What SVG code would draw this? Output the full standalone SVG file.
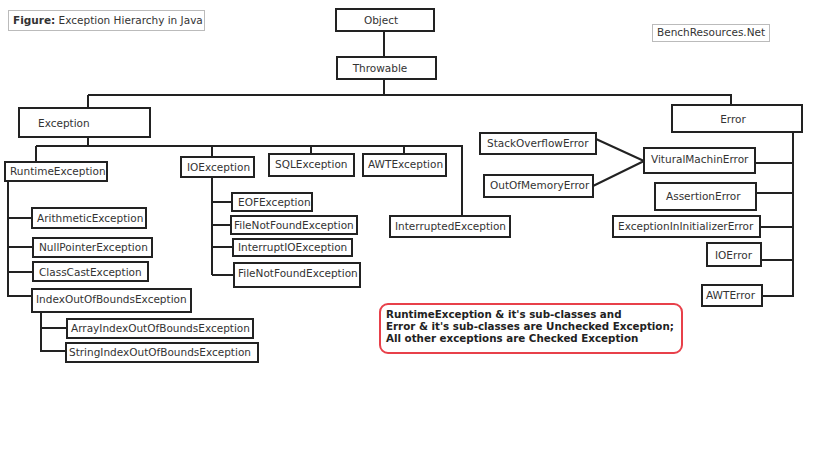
<svg xmlns="http://www.w3.org/2000/svg" width="819" height="460" viewBox="0 0 819 460">
<style>
.n rect{fill:#fff;stroke:#222;stroke-width:2}
.n text{font-family:"DejaVu Sans",Verdana,sans-serif;font-size:10.5px;fill:#333}
.c path{fill:none;stroke:#222;stroke-width:2}
.lbl rect{fill:#fff;stroke:#bbb;stroke-width:1}
.lbl text{font-family:"DejaVu Sans",Verdana,sans-serif;font-size:10.5px;fill:#333}
.note text{font-family:"DejaVu Sans",Verdana,sans-serif;font-size:10.3px;font-weight:bold;fill:#222}
</style>
<rect width="819" height="460" fill="#fff"/>
<g id="connectors" class="c">
<path d="M384 31V56M384 79V95M88 95H731V104M88 95V107"/>
<path d="M88 137V146M36 146H462V216M36 146V162M212 146V157M311 146V154M404 146V154"/>
<path d="M212 177V275M212 202H232M212 225H231M212 247H233M212 275H234"/>
<path d="M8 180V296H32M8 218H32M8 247H33M8 272H33"/>
<path d="M41 312V351H66M41 328H67"/>
<path d="M793 132V296H762M793 163H755M793 193H756M793 227H760M793 260H761"/>
<path d="M596 139L644 161M593 186L644 161"/>
</g>
<g id="fig" class="lbl"><rect x="8.5" y="10.5" width="196" height="20"/><text x="13" y="24"><tspan font-weight="bold">Figure:</tspan> Exception Hierarchy in Java</text></g>
<g id="bench" class="lbl"><rect x="652.5" y="24.5" width="117" height="17"/><text x="657" y="36">BenchResources.Net</text></g>
<g id="object" class="n"><rect x="336" y="9" width="98" height="22"/><text x="381" y="24" text-anchor="middle">Object</text></g>
<g id="throwable" class="n"><rect x="337" y="57" width="99" height="22"/><text x="380" y="72" text-anchor="middle">Throwable</text></g>
<g id="exception" class="n"><rect x="19" y="108" width="131" height="29"/><text x="38" y="127">Exception</text></g>
<g id="error" class="n"><rect x="672" y="105" width="130" height="27"/><text x="733" y="123" text-anchor="middle">Error</text></g>
<g id="runtime" class="n"><rect x="5" y="162" width="102" height="19"/><text x="10" y="175">RuntimeException</text></g>
<g id="ioexception" class="n"><rect x="181" y="157" width="73" height="20"/><text x="187" y="171">IOException</text></g>
<g id="sql" class="n"><rect x="269" y="154" width="85" height="22"/><text x="275" y="168">SQLException</text></g>
<g id="awt" class="n"><rect x="363" y="154" width="83" height="22"/><text x="368" y="168">AWTException</text></g>
<g id="interrupted" class="n"><rect x="390" y="216" width="120" height="21"/><text x="395" y="230">InterruptedException</text></g>
<g id="eof" class="n"><rect x="232" y="193" width="80" height="18"/><text x="238" y="206">EOFException</text></g>
<g id="fnf1" class="n"><rect x="231" y="216" width="126" height="18"/><text x="234" y="229">FileNotFoundException</text></g>
<g id="interruptio" class="n"><rect x="233" y="239" width="119" height="17"/><text x="238" y="251">InterruptIOException</text></g>
<g id="fnf2" class="n"><rect x="234" y="263" width="126" height="24"/><text x="238" y="277">FileNotFoundException</text></g>
<g id="arith" class="n"><rect x="32" y="208" width="114" height="20"/><text x="37" y="222">ArithmeticException</text></g>
<g id="npe" class="n"><rect x="33" y="238" width="119" height="19"/><text x="39" y="251">NullPointerException</text></g>
<g id="cce" class="n"><rect x="33" y="262" width="115" height="19"/><text x="39" y="276">ClassCastException</text></g>
<g id="ioobe" class="n"><rect x="32" y="289" width="159" height="23"/><text x="36" y="303">IndexOutOfBoundsException</text></g>
<g id="aioobe" class="n"><rect x="67" y="319" width="186" height="19"/><text x="71" y="332">ArrayIndexOutOfBoundsException</text></g>
<g id="sioobe" class="n"><rect x="66" y="343" width="192" height="19"/><text x="69" y="356">StringIndexOutOfBoundsException</text></g>
<g id="soe" class="n"><rect x="480" y="133" width="116" height="21"/><text x="487" y="147">StackOverflowError</text></g>
<g id="oome" class="n"><rect x="484" y="175" width="109" height="22"/><text x="490" y="189">OutOfMemoryError</text></g>
<g id="vme" class="n"><rect x="644" y="148" width="111" height="25"/><text x="651" y="163">VituralMachinError</text></g>
<g id="assert" class="n"><rect x="655" y="183" width="101" height="27"/><text x="666" y="200">AssertionError</text></g>
<g id="eiie" class="n"><rect x="613" y="216" width="147" height="21"/><text x="618" y="230">ExceptionInInitializerError</text></g>
<g id="ioerror" class="n"><rect x="707" y="243" width="54" height="23"/><text x="715" y="259">IOError</text></g>
<g id="awterror" class="n"><rect x="702" y="285" width="60" height="21"/><text x="706" y="299">AWTError</text></g>
<g id="note" class="note"><rect x="380" y="304" width="302" height="49" rx="8" fill="#fff" stroke="#e8404a" stroke-width="2"/>
<text x="386" y="318">RuntimeException &amp; it's sub-classes and</text>
<text x="386" y="330">Error &amp; it's sub-classes are Unchecked Exception;</text>
<text x="386" y="342">All other exceptions are Checked Exception</text></g>
</svg>
